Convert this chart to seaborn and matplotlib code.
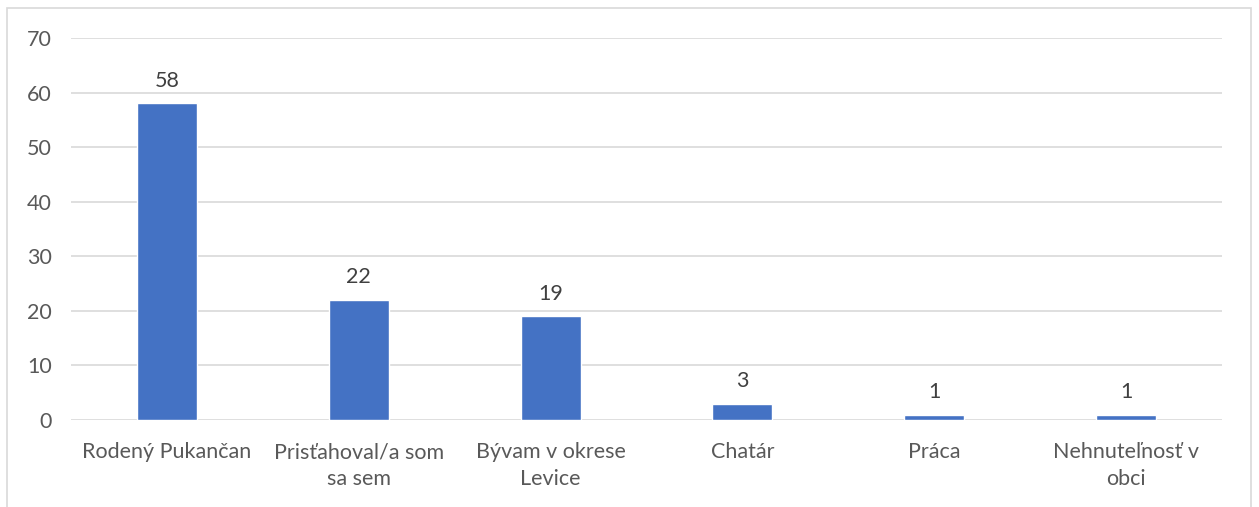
import matplotlib
matplotlib.use("Agg")
import matplotlib.pyplot as plt
import seaborn as sns
import pandas as pd
from matplotlib.patches import Rectangle

categories = ["Rodený Pukančan", "Prisťahoval/a som\nsa sem", "Bývam v okrese\nLevice",
              "Chatár", "Práca", "Nehnuteľnosť v\nobci"]
values = [58, 22, 19, 3, 1, 1]

df = pd.DataFrame({"kategoria": categories, "pocet": values})

sns.set_style("white")
plt.rcParams['font.family'] = ['Lato', 'DejaVu Sans']

fig = plt.figure(figsize=(12.59, 5.07), dpi=100)
ax = fig.add_axes([71 / 1259, 1 - 420 / 507, (1222 - 71) / 1259, (420 - 38) / 507])

sns.barplot(data=df, x="kategoria", y="pocet", color="#4472C4", width=0.313,
            saturation=1, ax=ax, zorder=3)

ax.set_ylim(0, 70)
ax.set_yticks(range(0, 71, 10))
ax.grid(axis="y", color="#D9D9D9", linewidth=1.2, zorder=0)
ax.set_xlabel("")
ax.set_ylabel("")
for s in ["top", "right", "left", "bottom"]:
    ax.spines[s].set_visible(False)
ax.tick_params(axis="both", length=0, colors="#595959", labelsize=15.5)
ax.tick_params(axis="y", pad=14)
ax.tick_params(axis="x", pad=16)
for lbl in ax.get_xticklabels():
    lbl.set_linespacing(1.45)

for p, v in zip(ax.patches, values):
    ax.text(p.get_x() + p.get_width() / 2, v + 2.3, str(v), ha="center", va="bottom",
            fontsize=15.5, color="#404040")

# chart frame
fig.patches.append(Rectangle((7 / 1259, -0.05), (1251 - 7) / 1259, 1.05 - 8 / 507,
                             transform=fig.transFigure, fill=False,
                             edgecolor="#D9D9D9", linewidth=1.2))

fig.savefig("out.png", dpi=100)
